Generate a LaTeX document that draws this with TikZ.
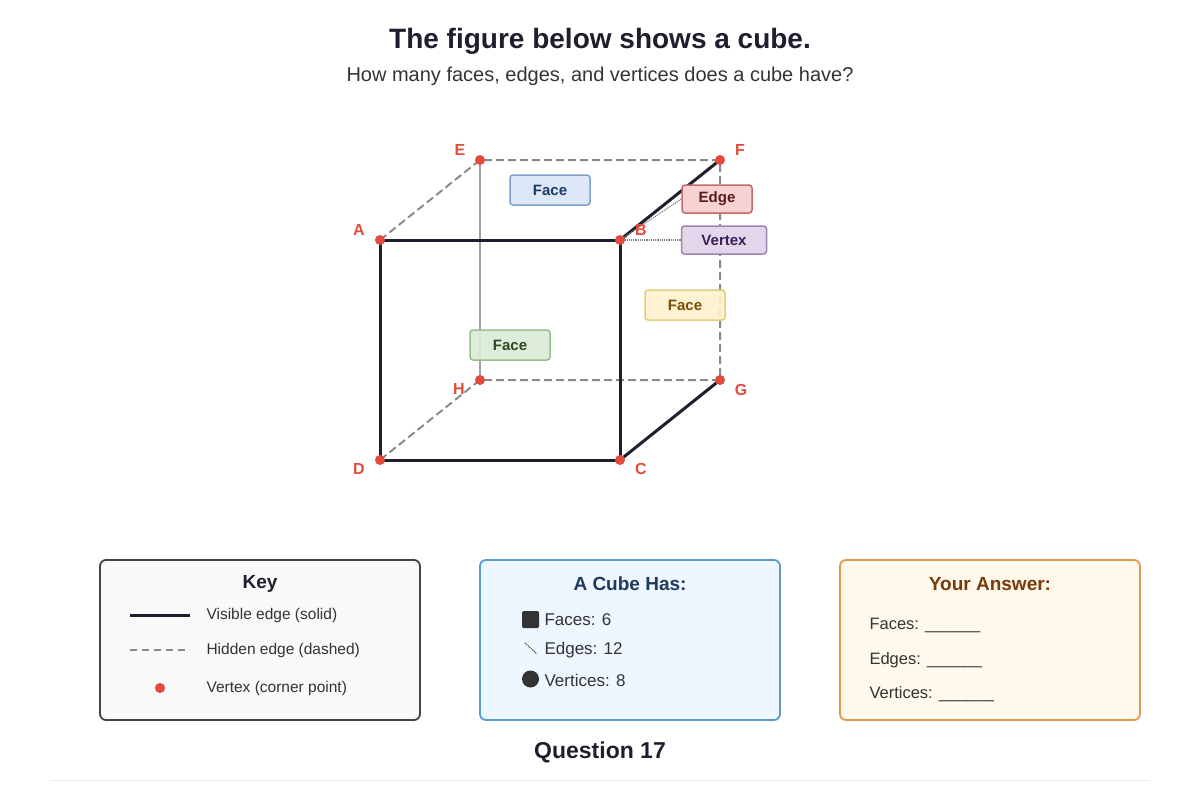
\documentclass[tikz,border=0pt]{standalone}
\usepackage{fontspec}
\setmainfont{Liberation Sans}
\usetikzlibrary{positioning}
\definecolor{vred}{HTML}{E04B3C}
\definecolor{ink}{HTML}{1E1E2E}
\definecolor{hidgray}{HTML}{8A8A8A}
\definecolor{blueF}{HTML}{DCE8F8}\definecolor{blueD}{HTML}{7E9FC8}\definecolor{blueT}{HTML}{1F3A60}
\definecolor{yelF}{HTML}{FDF1CC}\definecolor{yelD}{HTML}{E3CE7E}\definecolor{yelT}{HTML}{7A4E0A}
\definecolor{grnF}{HTML}{D9EBD6}\definecolor{grnD}{HTML}{95C08A}\definecolor{grnT}{HTML}{2C4A1E}
\definecolor{redF}{HTML}{F7D2D2}\definecolor{redD}{HTML}{C46A6A}\definecolor{redT}{HTML}{5A1A1A}
\definecolor{vioF}{HTML}{E4D6EA}\definecolor{vioD}{HTML}{A184B2}\definecolor{vioT}{HTML}{3C1E5A}
\definecolor{keyF}{HTML}{F9F9F9}\definecolor{keyD}{HTML}{444444}
\definecolor{hasF}{HTML}{EEF6FF}\definecolor{hasD}{HTML}{5B9BCF}
\definecolor{ansF}{HTML}{FFF8EC}\definecolor{ansD}{HTML}{E09A50}\definecolor{ansT}{HTML}{7A3B0A}
\tikzset{
  vis/.style={line width=3pt, draw=ink},
  hid/.style={line width=2pt, draw=hidgray, dash pattern=on 8pt off 4pt},
  vtx/.style={circle, fill=vred, inner sep=0pt, minimum size=10pt},
  vlab/.style={text=vred, font=\fontsize{16}{18}\selectfont\bfseries},
  tag/.style={rounded corners=3pt, line width=1.5pt, minimum height=30pt, font=\fontsize{15}{17}\selectfont\bfseries},
  panel/.style={rounded corners=6pt, line width=1.8pt},
  txt/.style={font=\fontsize{15.5}{18}\selectfont, text=black!80, anchor=west}
}
\begin{document}
\begin{tikzpicture}[x=1pt, y=-1pt]
  \useasboundingbox (0,0) rectangle (1200,800);
  %% title
  \node[font=\fontsize{28}{32}\selectfont\bfseries, text=ink] (title) at (600,41) {The figure below shows a cube.};
  \node[font=\fontsize{20}{23}\selectfont, text=black!80] (sub) at (600,76) {How many faces, edges, and vertices does a cube have?};
  %% corners
  \coordinate (A) at (380,240); \coordinate (B) at (620,240);
  \coordinate (C) at (620,460); \coordinate (D) at (380,460);
  \coordinate (E) at (480,160); \coordinate (F) at (720,160);
  \coordinate (G) at (720,380); \coordinate (H) at (480,380);
  %% hidden edges
  \draw[hid] (A) -- (E) -- (F) -- (G) -- (H) -- (D);
  \draw[line width=1.5pt, draw=hidgray!80] (E) -- (H);
  %% tags
  \node[tag, fill=blueF, draw=blueD, text=blueT, minimum width=80pt] (faceT) at (550,190) {Face};
  \node[tag, fill=yelF, draw=yelD, text=yelT, minimum width=80pt, fill opacity=0.9, text opacity=1] (faceR) at (685,305) {Face};
  \node[tag, fill=grnF, draw=grnD, text=grnT, minimum width=80pt, fill opacity=0.9, text opacity=1] (faceF) at (510,345) {Face};
  %% visible edges
  \draw[vis] (A) -- (B) -- (C) -- (D) -- cycle;
  \draw[vis] (B) -- (F);
  \draw[vis] (C) -- (G);
  \node[tag, fill=redF, draw=redD, text=redT, minimum width=70pt, minimum height=28pt] (edgeT) at (717,199) {Edge};
  \node[tag, fill=vioF, draw=vioD, text=vioT, minimum width=85pt, minimum height=28pt] (vertT) at (724,240) {Vertex};
  \draw[gray, densely dotted, line width=1.2pt] (B) -- (vertT.west);
  \draw[gray, densely dotted, line width=1.2pt] (B) -- (edgeT.west);
  %% vertices
  \foreach \p in {A,B,C,D,E,F,G,H} \node[vtx] (v\p) at (\p) {};
  \node[vlab] at (460,150) {E}; \node[vlab] at (740,150) {F};
  \node[vlab] at (359,230) {A}; \node[vlab] at (641,230) {B};
  \node[vlab] at (459,389) {H}; \node[vlab] at (741,390) {G};
  \node[vlab] at (359,469) {D}; \node[vlab] at (641,469) {C};
  %% key
  \draw[panel, fill=keyF, draw=keyD] (100,560) rectangle (420,720);
  \node[font=\fontsize{19}{21}\selectfont\bfseries, text=ink] (keyT) at (260,584) {Key};
  \draw[vis] (130,615) -- (190,615);
  \draw[hid, line width=1.8pt, dash pattern=on 7pt off 5pt] (130,650) -- (190,650);
  \node[vtx] (keyV) at (160,688) {};
  \node[txt] at (203,615) {Visible edge (solid)};
  \node[txt] at (203,650) {Hidden edge (dashed)};
  \node[txt] at (203,688) {Vertex (corner point)};
  %% cube has
  \draw[panel, fill=hasF, draw=hasD] (480,560) rectangle (780,720);
  \node[font=\fontsize{19}{21}\selectfont\bfseries, text=blueT] (hasT) at (630,584) {A Cube Has:};
  \fill[black!80, rounded corners=1.5pt] (522,611) rectangle (539,628);
  \draw[black!80, densely dotted, line width=1pt] (525,643) -- (537,654);
  \fill[black!80] (530.5,679) circle (8.5pt);
  \node[txt, font=\fontsize{17}{19}\selectfont] at (541,620) {Faces: 6};
  \node[txt, font=\fontsize{17}{19}\selectfont] at (541,650) {Edges: 12};
  \node[txt, font=\fontsize{17}{19}\selectfont] at (541,680) {Vertices: 8};
  %% answer
  \draw[panel, fill=ansF, draw=ansD] (840,560) rectangle (1140,720);
  \node[font=\fontsize{19}{21}\selectfont\bfseries, text=ansT] (ansT) at (990,584) {Your Answer:};
  \node[txt, font=\fontsize{16.5}{18}\selectfont] at (866,625) {Faces: \_\_\_\_\_\_};
  \node[txt, font=\fontsize{16.5}{18}\selectfont] at (866,660) {Edges: \_\_\_\_\_\_};
  \node[txt, font=\fontsize{16.5}{18}\selectfont] at (866,694) {Vertices: \_\_\_\_\_\_};
  %% footer
  \node[font=\fontsize{23}{26}\selectfont\bfseries, text=ink] (qn) at (600,752) {Question 17};
  \draw[black!8, line width=1pt] (50,780) -- (1150,780);
\end{tikzpicture}
\end{document}
